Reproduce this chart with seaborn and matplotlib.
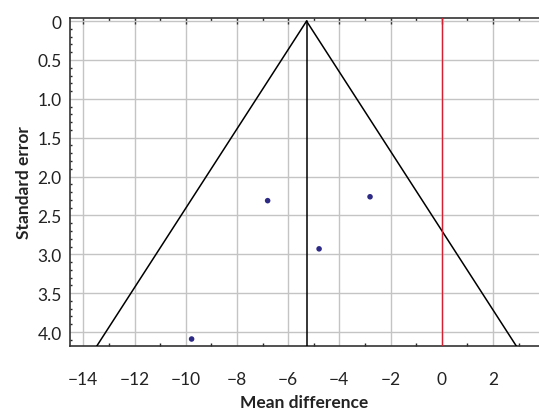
import matplotlib
matplotlib.use("Agg")
import matplotlib.pyplot as plt
import numpy as np
import pandas as pd
import seaborn as sns
from matplotlib.ticker import MultipleLocator

# study estimates
mean_diff = [-9.77, -6.80, -4.79, -2.80]
std_error = [4.09, 2.31, 2.93, 2.26]
pooled_mean = -5.28
null_value = 0.0
se_max = 4.18

df = pd.DataFrame({"md": mean_diff, "se": std_error})

sns.set_theme(style="white")
plt.rcParams["font.family"] = ["Lato", "DejaVu Sans"]

fig = plt.figure(figsize=(5.39, 4.14), dpi=100)
ax = fig.add_axes([70 / 539, 1 - 347 / 414, (539 - 70) / 539, (347 - 19) / 414])

# funnel (95% pseudo confidence limits)
se_line = np.array([0, se_max])
ax.plot(pooled_mean - 1.96 * se_line, se_line, color="black", lw=1.1, zorder=3)
ax.plot(pooled_mean + 1.96 * se_line, se_line, color="black", lw=1.1, zorder=3)
ax.plot([pooled_mean, pooled_mean], se_line, color="black", lw=1.1, zorder=3)
ax.axvline(null_value, color="#d42030", lw=1.0, zorder=3)

sns.scatterplot(data=df, x="md", y="se", ax=ax, color="#2d2a85", s=16,
                edgecolor="none", zorder=4)

ax.set_xlim(-14.52, 3.8)
ax.set_ylim(4.18, -0.04)
ax.xaxis.set_minor_locator(MultipleLocator(1))
ax.yaxis.set_minor_locator(MultipleLocator(0.1))

ax.set_xticks(np.arange(-14, 3, 2))
ax.set_xticklabels(["\u2212" + str(abs(v)) if v < 0 else str(v) for v in range(-14, 3, 2)])
ax.set_yticks(np.arange(0, 4.01, 0.5))
ax.set_yticklabels(["0"] + [f"{v:.1f}" for v in np.arange(0.5, 4.01, 0.5)])

ax.grid(True, which="major", color="#c4c4c4", lw=1.0)
ax.set_axisbelow(True)
ax.tick_params(axis="both", which="major", direction="in", length=4, width=1,
               color="#333333", labelsize=12.5, labelcolor="#222222")
ax.tick_params(axis="x", which="major", pad=18, top=True)
ax.tick_params(axis="x", which="minor", direction="in", length=2.5, width=1, top=True, bottom=True)
ax.tick_params(axis="y", which="major", pad=6)
ax.tick_params(axis="y", which="minor", direction="in", length=1.5, width=1, left=True)

for side in ["top", "bottom", "left"]:
    ax.spines[side].set_visible(True)
    ax.spines[side].set_color("#333333")
    ax.spines[side].set_linewidth(1.2)
ax.spines["right"].set_visible(False)

ax.set_xlabel("Mean difference", fontsize=12.5, fontweight="bold", color="#222222", labelpad=5)
ax.set_ylabel("Standard error", fontsize=12.5, fontweight="bold", color="#222222", labelpad=4)

fig.savefig("out.png", dpi=100)
